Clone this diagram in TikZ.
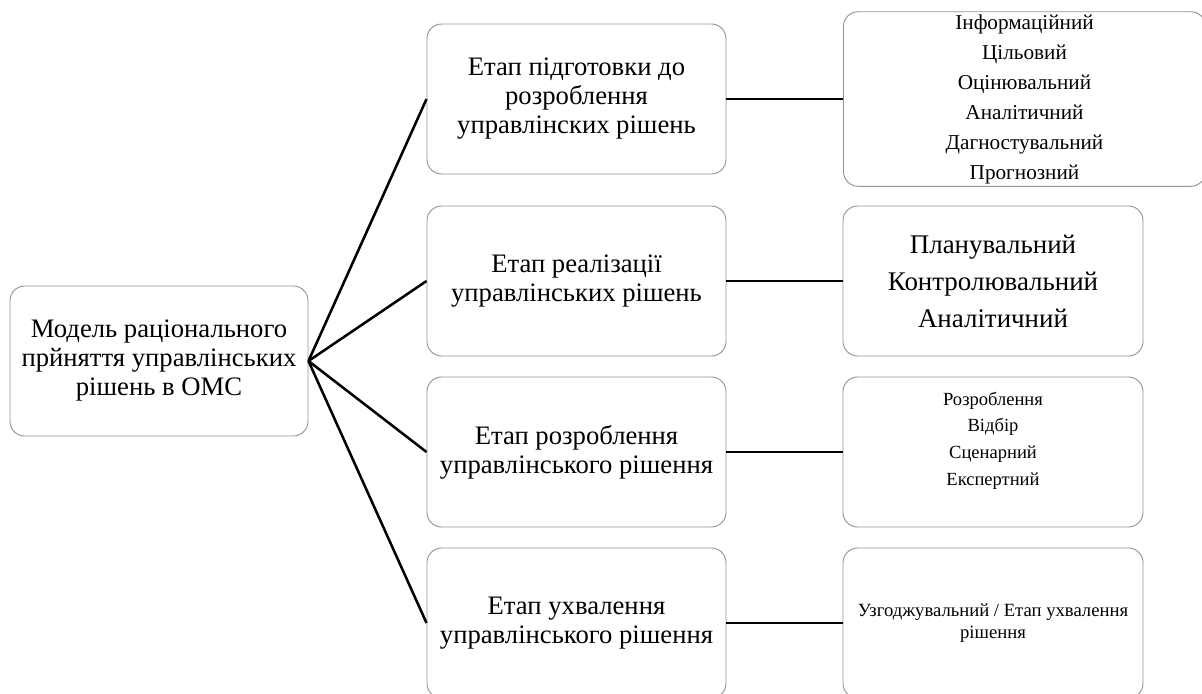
\documentclass[tikz,border=0pt]{standalone}
\usepackage{fontspec}
\setmainfont{Liberation Serif}
\usepackage{tikz}

\begin{document}
\begin{tikzpicture}[x=0.75pt,y=-0.75pt,
  box/.style={draw=gray!85,line width=0.7pt,rounded corners=11pt,align=center,inner sep=2pt},
  big/.style={font=\fontsize{20}{21.75}\selectfont},
  link/.style={line width=1.9pt}]
  \useasboundingbox (0,0) rectangle (1202,693);
  \clip (0,0) rectangle (1202,693);
  \node[box,big,minimum width=223.5pt,minimum height=112.5pt] (model) at (159,361) {Модель раціонального\\прйняття управлінських\\рішень в ОМС};
  \node[box,big,minimum width=224.25pt,minimum height=112.5pt] (prep) at (576.5,99) {Етап підготовки до\\розроблення\\управлінских рішень};
  \node[box,big,minimum width=224.25pt,minimum height=112.5pt] (impl) at (576.5,281) {Етап реалізації\\управлінських рішень};
  \node[box,big,minimum width=224.25pt,minimum height=112.5pt] (dev) at (576.5,452) {Етап розроблення\\управлінського рішення};
  \node[box,big,minimum width=224.25pt,minimum height=112.5pt] (appr) at (576.5,623) {Етап ухвалення\\управлінського рішення};
  \node[box,font=\fontsize{15.9}{22.5}\selectfont,minimum width=271.5pt,minimum height=129pt] (prepkinds) at (1024.5,99) {Інформаційний\\Цільовий\\Оцінювальний\\Аналітичний\\Дагностувальний\\Прогнозний};
  \node[box,font=\fontsize{20.2}{27.75}\selectfont,minimum width=225pt,minimum height=112.5pt] (implkinds) at (993,281) {Планувальний\\Контролювальний\\Аналітичний};
  \node[box,font=\fontsize{13.9}{20}\selectfont,minimum width=225pt,minimum height=112.5pt] (devkinds) at (993,452) {Розроблення\\Відбір\\Сценарний\\Експертний\\ \mbox{}};
  \node[box,font=\fontsize{14}{16.5}\selectfont,minimum width=225pt,minimum height=112.5pt] (apprkinds) at (993,623) {Узгоджувальний / Етап ухвалення\\рішення};
  \draw[link] (model.east) -- (prep.west);
  \draw[link] (model.east) -- (impl.west);
  \draw[link] (model.east) -- (dev.west);
  \draw[link] (model.east) -- (appr.west);
  \draw[link] (prep.east) -- (prepkinds.west);
  \draw[link] (impl.east) -- (implkinds.west);
  \draw[link] (dev.east) -- (devkinds.west);
  \draw[link] (appr.east) -- (apprkinds.west);
\end{tikzpicture}
\end{document}
